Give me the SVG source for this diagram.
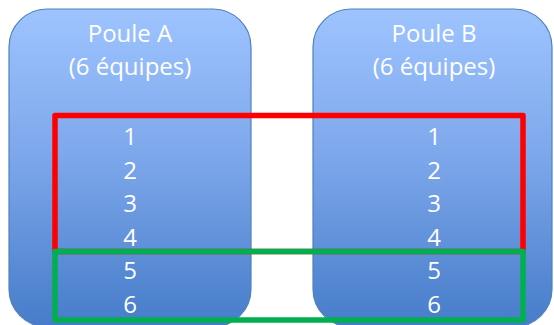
<svg xmlns="http://www.w3.org/2000/svg" width="554" height="325" viewBox="0 0 554 325">
  <defs>
    <linearGradient id="poolGrad" x1="0" y1="0" x2="0" y2="1">
      <stop offset="0" stop-color="#9EC4FF"/>
      <stop offset="0.45" stop-color="#7EA8EC"/>
      <stop offset="1" stop-color="#467CC9"/>
    </linearGradient>
  </defs>
  <style>
    .pool { fill: url(#poolGrad); stroke: #4F81BD; stroke-width: 1.2; }
    .lbl { font-family: "Open Sans", "Liberation Sans", sans-serif; font-size: 24px; fill: #FFFFFF; text-anchor: middle; }
    .frame { fill: none; stroke-width: 5.5; stroke-linejoin: round; }
  </style>
  <rect width="554" height="325" fill="#FFFFFF"/>
  <g id="poolA">
    <rect class="pool" x="9" y="9" width="242" height="318" rx="38" ry="38"/>
    <text class="lbl" x="130" y="41.5">Poule A</text>
    <text class="lbl" x="130" y="75">(6 équipes)</text>
    <text class="lbl" x="130" y="145">1</text>
    <text class="lbl" x="130" y="178.5">2</text>
    <text class="lbl" x="130" y="212">3</text>
    <text class="lbl" x="130" y="245.5">4</text>
    <text class="lbl" x="130" y="279">5</text>
    <text class="lbl" x="130" y="312.5">6</text>
  </g>
  <g id="poolB">
    <rect class="pool" x="313" y="9" width="239" height="318" rx="38" ry="38"/>
    <text class="lbl" x="434" y="41.5">Poule B</text>
    <text class="lbl" x="434" y="75">(6 équipes)</text>
    <text class="lbl" x="434" y="145">1</text>
    <text class="lbl" x="434" y="178.5">2</text>
    <text class="lbl" x="434" y="212">3</text>
    <text class="lbl" x="434" y="245.5">4</text>
    <text class="lbl" x="434" y="279">5</text>
    <text class="lbl" x="434" y="312.5">6</text>
  </g>
  <g id="frames">
    <rect id="redFrame" class="frame" stroke="#FF0000" x="55" y="115.5" width="468" height="136"/>
    <rect id="greenFrame" class="frame" stroke="#00B050" x="55" y="251.5" width="468" height="68.5"/>
  </g>
</svg>
